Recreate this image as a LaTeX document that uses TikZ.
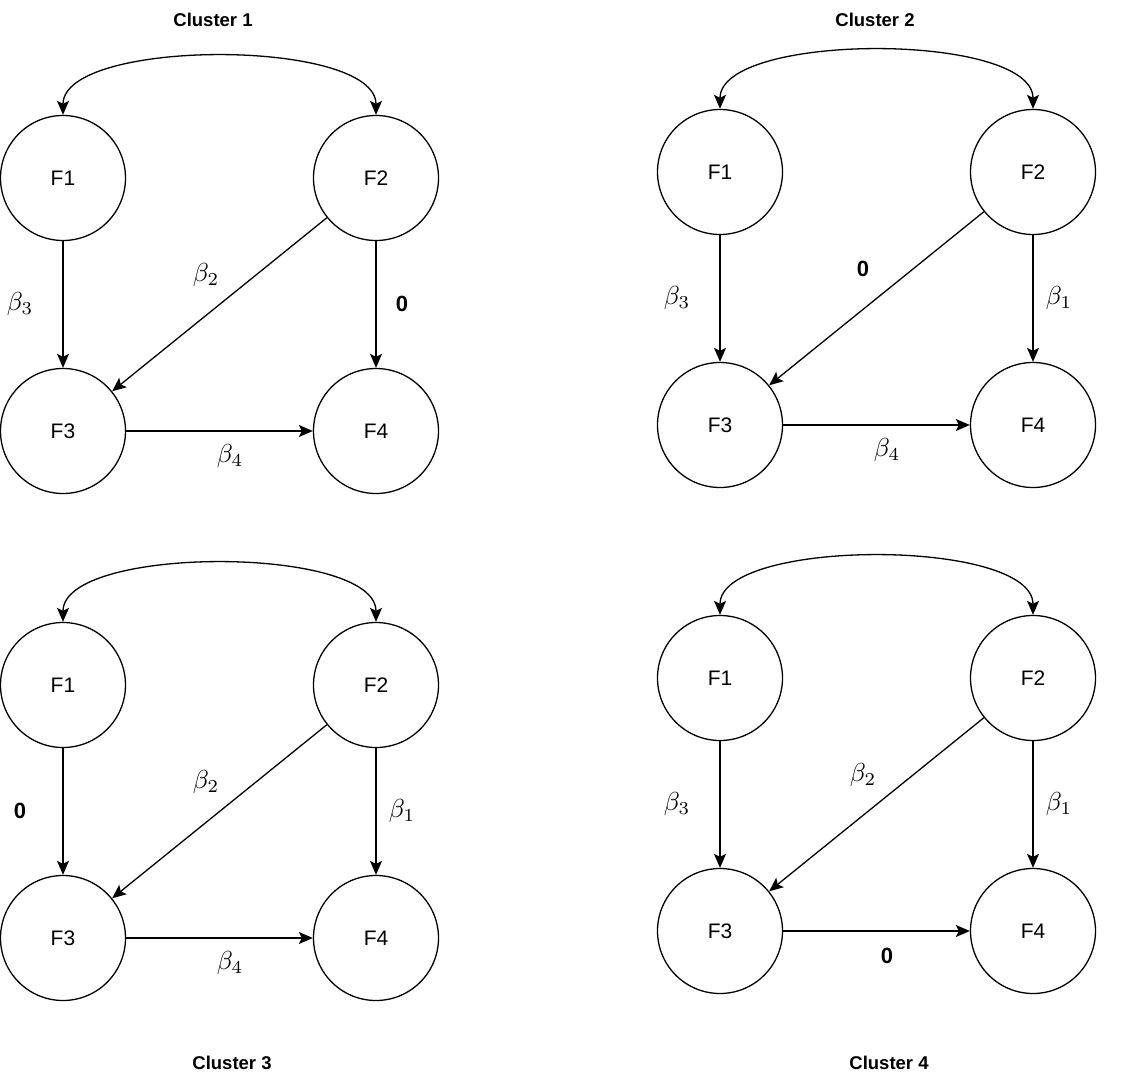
\documentclass[tikz,border=0pt]{standalone}
\usepackage{amsmath}
\usepackage{fontspec}
\usetikzlibrary{arrows.meta,calc}
\newfontfamily\arialfont{Liberation Sans}
\tikzstyle{factor}=[circle,draw,line width=1.3pt,minimum size=125pt,inner sep=0pt,font=\arialfont\fontsize{21}{25}\selectfont]
\tikzstyle{link}=[line width=1.3pt,-{Stealth[length=14pt,width=12pt,inset=3pt]}]
\tikzstyle{twoway}=[line width=1.3pt,{Stealth[length=14pt,width=12pt,inset=3pt]}-{Stealth[length=14pt,width=12pt,inset=3pt]}]
\tikzstyle{weight}=[inner sep=0pt]
\tikzstyle{title}=[font=\arialfont\bfseries\fontsize{18.5}{22}\selectfont]
\newcommand{\nought}{{\arialfont\bfseries\fontsize{22}{26}\selectfont 0}}
\newcommand{\wt}[1]{\scalebox{2.6}{$\beta_{#1}$}}
\newcommand{\drawcluster}[7]{
% #1 = name, (#2,#3) = centre of F1, #4..#7 = weights on F1-F3, F2-F3, F2-F4, F3-F4
\node[factor] (#1f1) at (#2,#3) {F1};
\node[factor] (#1f2) at (#2+313,#3) {F2};
\node[factor] (#1f3) at (#2,#3+253) {F3};
\node[factor] (#1f4) at (#2+313,#3+253) {F4};
\coordinate (#1ca) at (#2,#3-140);
\coordinate (#1cb) at (#2+313,#3-140);
\draw[twoway] (#1f1.north) .. controls (#1ca) and (#1cb) .. (#1f2.north);
\draw[link] (#1f1) -- (#1f3);
\draw[link] (#1f2) -- (#1f3);
\draw[link] (#1f2) -- (#1f4);
\draw[link] (#1f3) -- (#1f4);
\node[weight] (#1w13) at (#2-43,#3+126) {#4};
\node[weight] (#1w23) at (#2+143,#3+97) {#5};
\node[weight] (#1w24) at (#2+339,#3+126) {#6};
\node[weight] (#1w34) at (#2+167,#3+278) {#7};
}

\begin{document}
\begin{tikzpicture}[x=1pt,y=-1pt]
	\useasboundingbox (0,0) rectangle (1122,1081);
	\drawcluster{a}{63}{178}{\wt{3}}{\wt{2}}{\nought}{\wt{4}}
	\drawcluster{b}{720}{172}{\wt{3}}{\nought}{\wt{1}}{\wt{4}}
	\drawcluster{c}{63}{685}{\nought}{\wt{2}}{\wt{1}}{\wt{4}}
	\drawcluster{d}{720}{678}{\wt{3}}{\wt{2}}{\wt{1}}{\nought}
	\node[title] (atitle) at (213,20) {Cluster 1};
	\node[title] (btitle) at (875,20) {Cluster 2};
	\node[title] (ctitle) at (232,1063) {Cluster 3};
	\node[title] (dtitle) at (889,1063) {Cluster 4};
	%\draw[red] (0,0) grid[step=100] (1122,1081); % use this to debug
\end{tikzpicture}
\end{document}
